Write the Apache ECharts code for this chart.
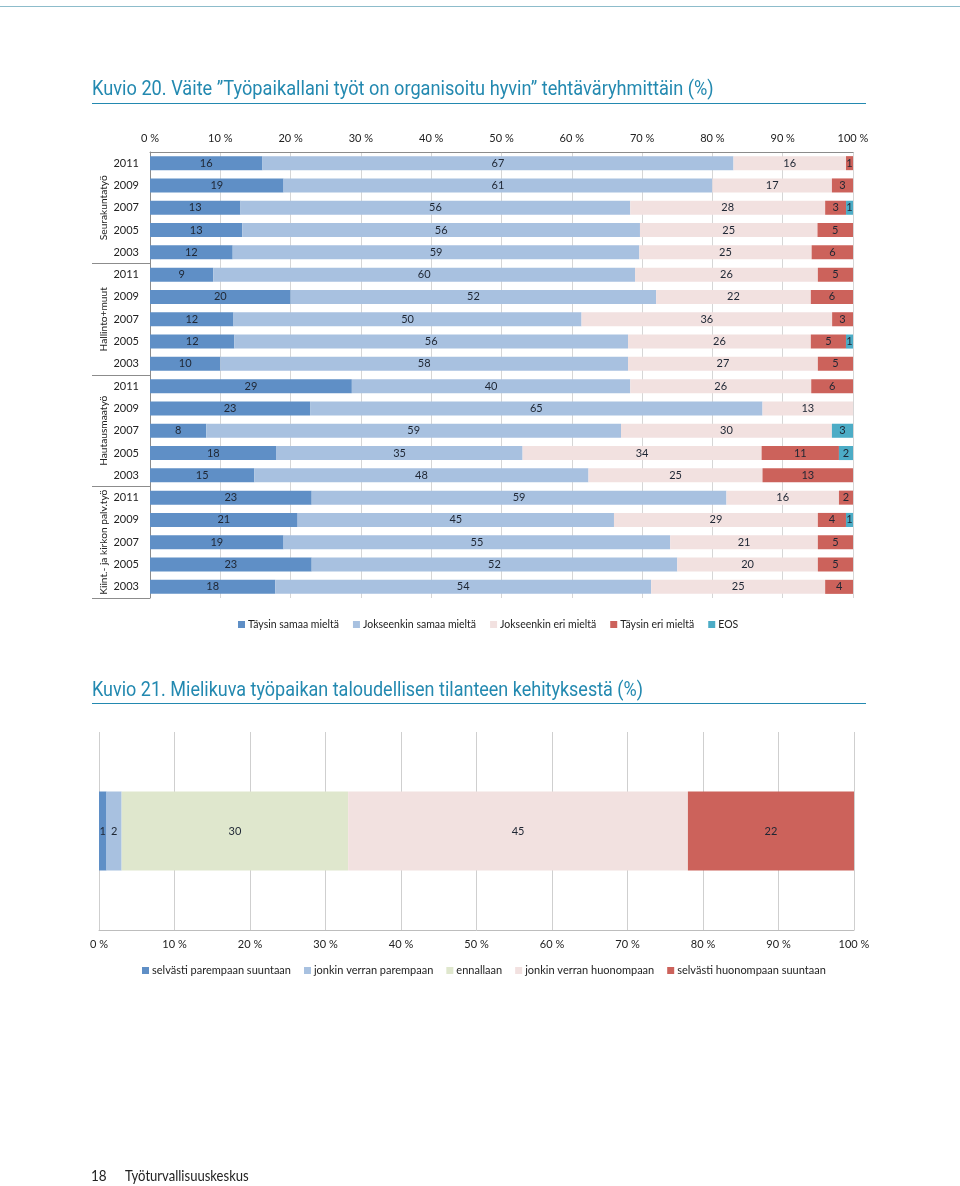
<!DOCTYPE html>
<html><head><meta charset="utf-8">
<script src="https://cdn.jsdelivr.net/npm/echarts@6/dist/echarts.min.js"></script>
<style>html,body{margin:0;padding:0;background:#fff}#c{width:960px;height:1186px}</style>
</head><body><div id="c"></div>
<script>
// ---- Kuvio 20 data ----
const groups = ['Seurakuntatyö','Hallinto+muut','Hautausmaatyö','Kiint.- ja kirkon palv.työ'];
const years = ['2011','2009','2007','2005','2003'];
const answers20 = ['Täysin samaa mieltä','Jokseenkin samaa mieltä','Jokseenkin eri mieltä','Täysin eri mieltä','EOS'];
const taysinSamaa     = [16,19,13,13,12,  9,20,12,12,10, 29,23, 8,18,15, 23,21,19,23,18];
const jokseenkinSamaa = [67,61,56,56,59, 60,52,50,56,58, 40,65,59,35,48, 59,45,55,52,54];
const jokseenkinEri   = [16,17,28,25,25, 26,22,36,26,27, 26,13,30,34,25, 16,29,21,20,25];
const taysinEri       = [ 1, 3, 3, 5, 6,  5, 6, 3, 5, 5,  6, 0, 0,11,13,  2, 4, 5, 5, 4];
const eos             = [ 0, 0, 1, 0, 0,  0, 0, 0, 1, 0,  0, 0, 3, 2, 0,  0, 1, 0, 0, 0];
const xTicks = [0,10,20,30,40,50,60,70,80,90,100];

// ---- Kuvio 21 data ----
const answers21 = ['selvästi parempaan suuntaan','jonkin verran parempaan','ennallaan','jonkin verran huonompaan','selvästi huonompaan suuntaan'];
const values21 = [1, 2, 30, 45, 22];

const C = {dark:'#5f8fc6', light:'#a8c1e0', pink:'#f2e1e0', red:'#cc625b', teal:'#4cacc6', green:'#dfe7cd'};
const FONT = 'Lato, "Open Sans", sans-serif';
const TFONT = 'Roboto, sans-serif';
const TXT = '#1e2633';
const TCOL = '#2389b0';

const cats = [];
groups.forEach(g => years.forEach(y => cats.push(g + '|' + y)));
const rows20 = [taysinSamaa, jokseenkinSamaa, jokseenkinEri, taysinEri, eos];
const sums = cats.map((_, i) => rows20.reduce((s, r) => s + r[i], 0));
const cols20 = [C.dark, C.light, C.pink, C.red, C.teal];

const series = rows20.map((r, k) => ({
  name: answers20[k], type: 'bar', stack: 'a', xAxisIndex: 0, yAxisIndex: 0,
  barCategoryGap: '37%', itemStyle: {color: cols20[k]},
  label: {show: true, position: 'inside', color: TXT, fontSize: 11, fontFamily: FONT,
          formatter: p => p.data.orig ? String(p.data.orig) : ''},
  data: r.map((v, i) => ({value: v / sums[i] * 100, orig: v}))
}));
const cols21 = [C.dark, C.light, C.green, C.pink, C.red];
values21.forEach((v, k) => series.push({
  name: answers21[k], type: 'bar', stack: 'b', xAxisIndex: 1, yAxisIndex: 2,
  barWidth: 79, itemStyle: {color: cols21[k]},
  label: {show: true, position: 'inside', color: TXT, fontSize: 11, fontFamily: FONT},
  data: [v]
}));

const chart = echarts.init(document.getElementById('c'));
chart.setOption({
  animation: false,
  textStyle: {fontFamily: FONT},
  graphic: [
    {type: 'line', shape: {x1: 0, y1: 6.5, x2: 960, y2: 6.5}, style: {stroke: '#8dbccb', lineWidth: 1}},
    {type: 'text', x: 92, y: 90, scaleX: 0.91,
     style: {text: 'Kuvio 20. Väite ”Työpaikallani työt on organisoitu hyvin” tehtäväryhmittäin (%)',
             font: '20px ' + TFONT, fill: TCOL, textVerticalAlign: 'middle'}},
    {type: 'line', shape: {x1: 92, y1: 103.5, x2: 866, y2: 103.5}, style: {stroke: TCOL, lineWidth: 1}},
    {type: 'text', x: 92, y: 691, scaleX: 0.9,
     style: {text: 'Kuvio 21. Mielikuva työpaikan taloudellisen tilanteen kehityksestä (%)',
             font: '20px ' + TFONT, fill: TCOL, textVerticalAlign: 'middle'}},
    {type: 'line', shape: {x1: 92, y1: 703.5, x2: 866, y2: 703.5}, style: {stroke: TCOL, lineWidth: 1}},
    {type: 'text', x: 91, y: 1176, scaleX: 0.9, style: {text: '18', font: '15px ' + FONT, fill: '#222', textVerticalAlign: 'middle'}},
    {type: 'text', x: 125, y: 1176, scaleX: 0.87, style: {text: 'Työturvallisuuskeskus', font: '15px ' + FONT, fill: '#222', textVerticalAlign: 'middle'}}
  ],
  legend: [
    {data: answers20, left: 233, top: 614, itemWidth: 7, itemHeight: 7, itemGap: 14, icon: 'rect',
     textStyle: {fontSize: 10.5, color: '#222', fontFamily: FONT, padding: [0,0,0,-2]}},
    {data: answers21, left: 137, top: 960, itemWidth: 7, itemHeight: 7, itemGap: 13, icon: 'rect',
     textStyle: {fontSize: 11, color: '#222', fontFamily: FONT, padding: [0,0,0,-2]}}
  ],
  grid: [
    {left: 150, top: 152, width: 703, height: 446},
    {left: 99, top: 732, width: 755, height: 198}
  ],
  xAxis: [
    {gridIndex: 0, type: 'value', position: 'top', min: 0, max: 100, interval: 10,
     axisLine: {show: true, lineStyle: {color: '#8c8c8c'}}, axisTick: {show: false},
     splitLine: {lineStyle: {color: '#d6d6d6'}},
     axisLabel: {formatter: v => xTicks.includes(v) ? v + ' %' : '', fontSize: 11, color: '#222', margin: 8}},
    {gridIndex: 1, type: 'value', position: 'bottom', min: 0, max: 100, interval: 10,
     axisLine: {show: true, lineStyle: {color: '#bdbdbd'}}, axisTick: {show: false},
     splitLine: {lineStyle: {color: '#cfcfcf'}},
     axisLabel: {formatter: v => xTicks.includes(v) ? v + ' %' : '', fontSize: 11, color: '#222', margin: 9}}
  ],
  yAxis: [
    {gridIndex: 0, type: 'category', data: cats, inverse: true,
     axisLine: {show: true, lineStyle: {color: '#8c8c8c'}}, axisTick: {show: false},
     axisLabel: {formatter: v => v.split('|')[1], fontSize: 11, color: '#222', margin: 11, interval: 0}},
    {gridIndex: 0, type: 'category', data: groups, inverse: true, position: 'left',
     axisLine: {show: false},
     axisTick: {show: true, length: 58, interval: (i) => i !== 0, lineStyle: {color: '#8c8c8c'}},
     axisLabel: {rotate: 90, fontSize: 10.2, color: '#222', margin: 41, interval: 0}},
    {gridIndex: 1, type: 'category', data: ['x'], show: false}
  ],
  series: series
});
</script></body></html>
